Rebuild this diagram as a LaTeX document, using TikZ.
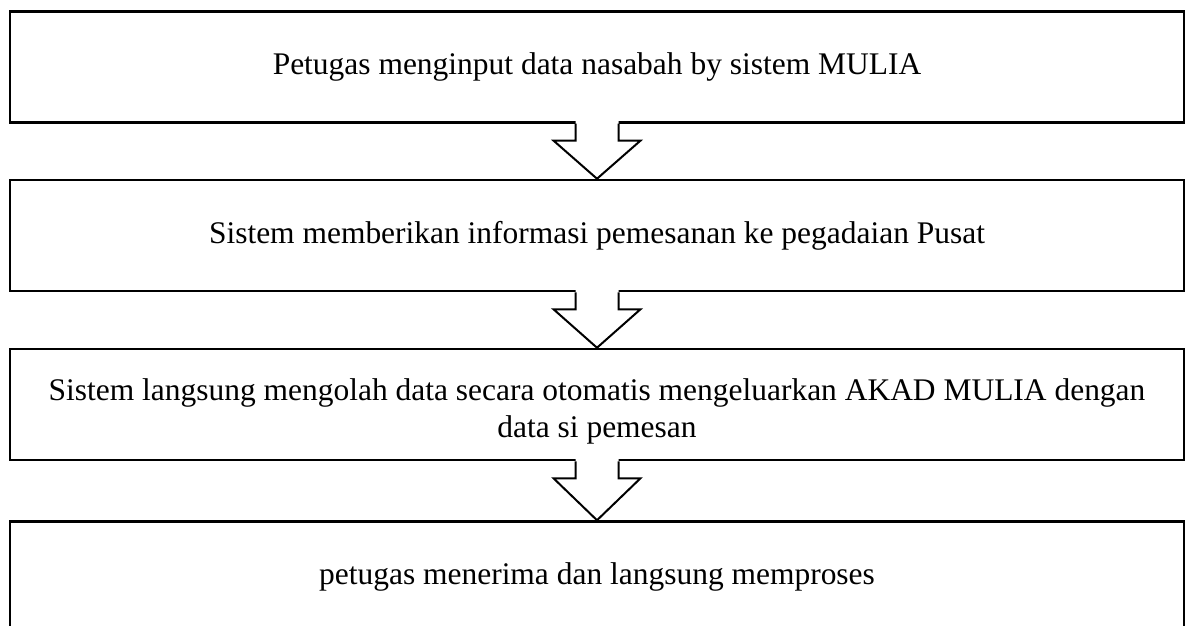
\documentclass[tikz,border=0pt]{standalone}
\usepackage{fontspec}
\setmainfont{Liberation Serif}
\usetikzlibrary{calc}
\tikzset{
  box/.style={draw=black, line width=1.9pt, fill=white, minimum width=880.5pt, minimum height=83pt, inner sep=0pt, align=center, font=\fontsize{23.6}{28}\selectfont},
  blockarrow/.style={draw=black, line width=1.5pt, line join=miter},
}
\begin{document}
\begin{tikzpicture}[x=0.75pt, y=-0.75pt]
\useasboundingbox (0,0) rectangle (1189,625);
\clip (0,0) rectangle (1189,625);
\fill[white] (0,0) rectangle (1189,625);
\node[box] (b1) at (597,67) {Petugas menginput data nasabah by sistem MULIA};
\node[box, minimum height=83.25pt] (b2) at (597,235.5) {Sistem memberikan informasi pemesanan ke pegadaian Pusat};
\node[box, minimum height=83.25pt] (b3) at (597,404.5) {\raisebox{-5pt}[\height][\depth]{\parbox{870pt}{\centering Sistem langsung mengolah data secara otomatis mengeluarkan AKAD MULIA dengan\\data si pemesan}}};
\node[box, minimum height=83.25pt] (b4) at (597,577) {petugas menerima dan langsung memproses};
\foreach \a/\b in {b1/b2, b2/b3, b3/b4}{
  \fill[white] ($(\a.south)+(-21.5,-3)$) -- ($(\a.south)+(-21.5,17)$) -- ($(\a.south)+(-43.5,17)$) -- (\b.north) -- ($(\a.south)+(43.5,17)$) -- ($(\a.south)+(21.5,17)$) -- ($(\a.south)+(21.5,-3)$) -- cycle;
  \draw[blockarrow] ($(\a.south)+(-21.5,0)$) -- ($(\a.south)+(-21.5,17)$) -- ($(\a.south)+(-43.5,17)$) -- (\b.north) -- ($(\a.south)+(43.5,17)$) -- ($(\a.south)+(21.5,17)$) -- ($(\a.south)+(21.5,0)$);
}
\end{tikzpicture}
\end{document}
